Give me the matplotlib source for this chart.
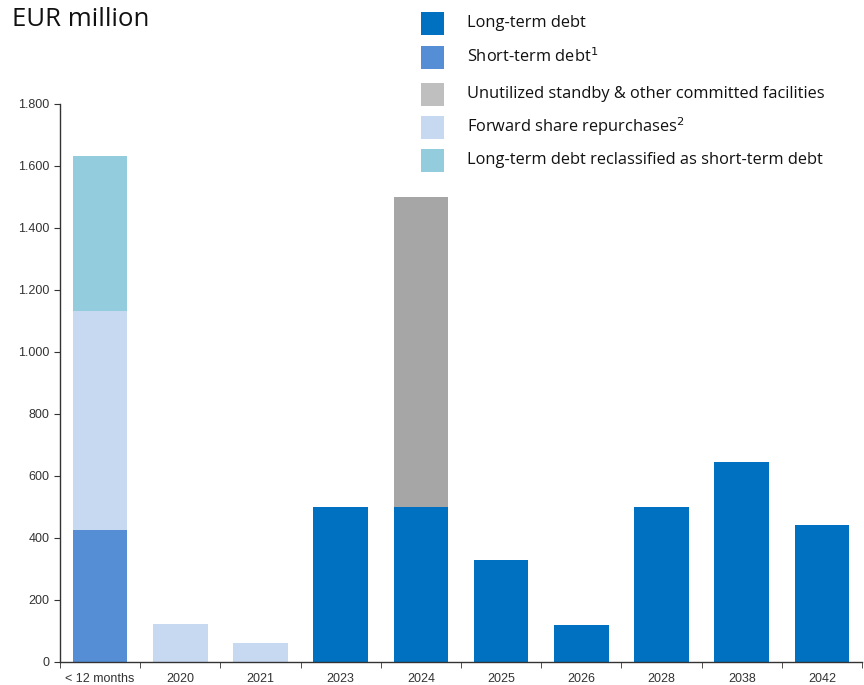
import matplotlib.pyplot as plt
import numpy as np
from matplotlib.patches import Rectangle
from matplotlib.ticker import FuncFormatter

# ---------------- data ----------------
categories = ["< 12 months", "2020", "2021", "2023", "2024",
              "2025", "2026", "2028", "2038", "2042"]
long_term     = [0, 0, 0, 500, 500, 330, 120, 500, 645, 442]
short_term    = [425, 0, 0, 0, 0, 0, 0, 0, 0, 0]
unutilized    = [0, 0, 0, 0, 1000, 0, 0, 0, 0, 0]
forward_share = [707, 124, 61, 0, 0, 0, 0, 0, 0, 0]
reclassified  = [500, 0, 0, 0, 0, 0, 0, 0, 0, 0]

legend_labels = ["Long-term debt",
                 "Short-term debt$^{1}$",
                 "Unutilized standby & other committed facilities",
                 "Forward share repurchases$^{2}$",
                 "Long-term debt reclassified as short-term debt"]

C_LONG  = "#0070C0"
C_SHORT = "#558ED5"
C_GRAY  = "#A6A6A6"
C_GRAY_LEG = "#BFBFBF"
C_FWD   = "#C6D9F1"
C_RECL  = "#93CDDD"

plt.rcParams["font.family"] = ["Liberation Sans", "DejaVu Sans"]

fig = plt.figure(figsize=(8.64, 6.85), dpi=100)
ax = fig.add_axes([60 / 864, 23 / 685, 802 / 864, 558 / 685])

x = np.arange(len(categories))
w = 0.68
bottom = np.zeros(len(categories))
for vals, col in [(short_term, C_SHORT), (long_term, C_LONG),
                  (forward_share, C_FWD), (unutilized, C_GRAY),
                  (reclassified, C_RECL)]:
    v = np.array(vals, dtype=float)
    ax.bar(x, v, w, bottom=bottom, color=col, edgecolor="none")
    bottom += v

ax.set_xlim(-0.5, len(categories) - 0.5)
ax.set_ylim(0, 1800)
ax.set_yticks(np.arange(0, 1801, 200))
ax.yaxis.set_major_formatter(FuncFormatter(lambda v, p: f"{int(v):,}".replace(",", ".")))
ax.set_xticks(x)
ax.set_xticklabels(categories)
ax.set_xticks(np.arange(-0.5, len(categories), 1), minor=True)
ax.tick_params(axis="x", which="major", length=0, pad=8, labelsize=9, colors="#333333")
ax.tick_params(axis="x", which="minor", length=4, direction="out", color="#333333")
ax.tick_params(axis="y", length=4, direction="out", labelsize=9, colors="#333333")
for s in ["top", "right"]:
    ax.spines[s].set_visible(False)
for s in ["left", "bottom"]:
    ax.spines[s].set_color("#333333")
    ax.spines[s].set_linewidth(1.0)

# title
fig.text(12 / 864, 1 - 20 / 685, "EUR million", fontsize=18.5, family="Open Sans",
         va="center", ha="left", color="#111111")

# legend drawn in figure coords
leg_colors = [C_LONG, C_SHORT, C_GRAY_LEG, C_FWD, C_RECL]
row_y = [23, 57, 94, 127, 160]
for lab, col, yy in zip(legend_labels, leg_colors, row_y):
    fig.patches.append(Rectangle(((421) / 864, 1 - (yy + 11.5) / 685),
                                 23 / 864, 23 / 685, transform=fig.transFigure,
                                 facecolor=col, edgecolor="none"))
    fig.text(467 / 864, 1 - yy / 685, lab, fontsize=11.8, family="Open Sans",
             va="center", ha="left", color="#111111")

fig.savefig("out.png", dpi=100)
